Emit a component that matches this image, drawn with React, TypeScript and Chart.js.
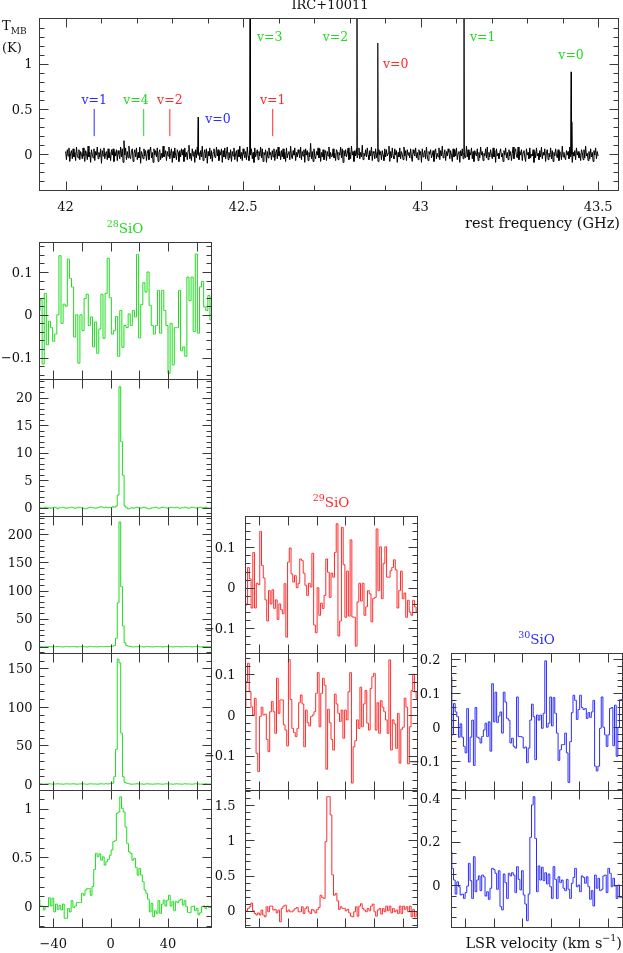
import React, { useEffect, useRef } from "react";
import { Chart, registerables } from "chart.js";
Chart.register(...registerables);

// ---------------- DATA ----------------
// Top spectrum (rest frequency, GHz)
const topFreqStart = 42.0;
const topFreqEnd = 43.5;
// baseline noise, in units of 0.01 K
const topNoiseCentiK = [
  3,-6,5,-2,7,-8,1,4,-5,6,-3,2,-7,8,-1,-4,5,-6,3,0,
  -5,7,-2,-8,4,1,-6,9,-3,2,-9,5,0,-4,6,-7,3,-1,8,-5,
  2,-3,6,-10,4,-2,7,-5,1,3,-6,6,-4,2,-7,5,-1,6,-8,3,
  -2,5,-7,4,0,-5,8,-3,6,-9,15,-1,7,-6,3,-4,9,-2,-5,4,
  6,-8,1,5,-3,7,-6,2,-4,8,-10,3,0,-5,6,-2,4,-7,1,5,
  -6,3,8,-4,2,-9,6,-1,4,-3,7,-8,2,5,-6,1,-4,9,-3,0,
  4,-7,3,-2,8,-5,1,6,-9,3,-4,7,-1,-6,5,2,-8,4,-3,6,
  -1,5,-8,7,-3,2,-6,4,10,-5,1,-7,6,-2,3,-9,5,-4,8,-1,
  2,-6,4,-3,9,-7,1,5,-4,6,-10,3,-2,7,-5,4,-8,2,6,-3,
  -4,8,-2,5,-7,3,-1,6,-9,4,-3,7,-5,1,8,-6,2,-4,5,-8,
  3,-2,7,-6,1,4,-8,5,-3,9,-5,2,-7,6,0,-4,3,-6,8,-2,
  -7,4,-1,6,-5,2,-9,7,-3,1,5,-6,3,-2,8,-4,6,-8,2,-1,
  5,-9,3,-4,7,-1,2,-6,4,-3,6,-7,1,5,-5,8,-2,3,-6,4,
  -3,6,-5,2,-8,7,-4,1,3,-6,9,-2,-5,4,-1,7,-7,2,-3,5,
  1,-4,8,-6,3,-2,5,-9,6,-1,4,-7,2,-3,12,-5,3,-8,6,-2,
  -5,3,-1,7,-4,6,-8,2,-3,5,-6,1,4,-7,3,-2,8,-5,2,-3,
  -2,6,-4,1,-7,5,3,-6,2,-1,8,-4,6,-9,4,-2,5,-3,1,7,
  -6,2,-5,9,-1,3,-8,4,-2,6,-4,0,7,-5,2,-3,10,-6,1,-2,
  5,-3,7,-1,-6,4,-2,8,-7,3,1,-5,6,-4,2,-8,5,-1,3,-6,
  4,-1,-7,6,-3,5,-2,1,9,-8,3,-4,7,-2,-5,6,-1,4,-9,2,
  -3,7,-5,3,0,-6,8,-2,4,-7,5,-1,2,-4,6,-3,-8,5,1,-2,
  7,-4,2,-6,5,-1,3,-9,6,-3,1,4,-5,8,-2,-7,3,0,5,-4,
  -1,4,-8,2,6,-5,1,-3,7,-6,4,-2,9,-4,-1,5,-7,3,-2,6,
  2,-5,4,-1,-8,6,-3,5,-2,7,-6,1,3,-9,4,-2,6,-5,1,-3,
  -4,9,-3,5,-6,2,-1,7,-5,3,-8,4,0,-2,6,-7,2,-4,8,-1,
  3,-7,1,-2,6,-4,8,-6,2,-3,5,-1,-5,7,-3,4,-9,6,-2,1,
  -5,2,6,-3,1,-8,4,-1,7,-4,2,-6,5,-2,3,-7,1,8,-5,3,
  6,-2,-4,8,-6,3,-1,5,-7,2,4,-3,-8,6,-1,2,-5,7,-4,0,
  -2,5,-9,3,-4,7,-2,1,-6,4,-3,8,-5,2,-1,6,-8,3,5,-6,
  1,-3,7,-5,4,-8,2,-2,6,-1,-4,5,-7,3,1,-6,9,-3,2,-4,
  -6,4,-1,3,-5,8,-3,6,-9,2,-2,4,-6,7,-1,3,-4,1,-7,5,
  2,-6,5,-4,9,-2,1,-7,3,-5,6,-3,2,-8,4,-1,7,-5,3,-2,
];
// emission lines in the top spectrum
const lineFreqsGHz = [42.3732, 42.5196, 42.8206, 42.8794, 43.1221, 43.4238, 43.4262];
const linePeaksK = [0.41, 3.0, 3.0, 1.23, 3.0, 0.91, 0.36];
// marker sticks for undetected transitions
const markerFreqsGHz = [42.0805, 42.2199, 42.2936, 42.5834];
const markerIsotope = ["30", "28", "29", "29"];
const markerFromK = 0.2;
const markerToK = 0.5;
// transition labels
const labelText = ["v=1", "v=4", "v=2", "v=1", "v=0", "v=3", "v=2", "v=0", "v=1", "v=0"];
const labelIsotope = ["30", "28", "29", "29", "30", "28", "28", "29", "28", "28"];
const labelFreqGHz = [42.0805, 42.198, 42.2936, 42.5834, 42.393, 42.539, 42.796, 42.894, 43.139, 43.4238];
const labelLevelK = [0.6, 0.6, 0.6, 0.6, 0.4, 1.3, 1.3, 1.0, 1.3, 1.1];

// Velocity panels (LSR velocity, km/s)
const velMin = -50;
const velMax = 70;
const si28v4 = [0.01,0.035,-0.115,0.05,-0.07,-0.015,-0.03,-0.062,-0.045,0,0.138,-0.02,0.025,0.02,0.13,0.085,0.065,-0.052,0.0,-0.113,0,-0.037,0.038,0.048,-0.025,-0.005,-0.075,-0.017,-0.09,-0.033,0.048,-0.055,0.05,0.132,0.04,-0.045,-0.037,-0.004,-0.097,0.01,-0.076,-0.025,-0.03,0.002,-0.025,0.01,-0.005,0.141,-0.054,0.024,0.075,0.053,0.1,0.022,-0.025,-0.045,-0.025,0.057,-0.043,0.057,0.01,-0.025,-0.137,-0.02,-0.117,-0.03,-0.03,0.057,-0.084,-0.075,-0.097,0.088,0.033,0.088,-0.039,0.142,-0.043,0.065,0.078,0.018,0.01,0.045,-0.012];
const si28v3 = [
  0.1,0,-0.1,0,0.1,0,0,-0.1,0,0.1,0,-0.2,0,0,0.1,0,-0.1,0,0,0.1,
  0,-0.1,0,0.1,0,0,-0.1,-0.2,-0.1,0,0.1,0,0,-0.1,0,0.1,0.2,0.1,0,0.1,
  0,0.1,0,0.2,0.1,0.3,2.3,22,12,5.9,0.3,0,-0.2,-0.1,0,-0.1,0,0.1,0,-0.1,
  0,0.1,0,-0.1,-0.2,-0.1,0,0,0.1,0,-0.1,0,0.1,0,0,-0.1,0,0.1,0,0,
  0.1,0,-0.1,0,0,0.1,0,-0.1,0,0.1,0,0,-0.1,0,0.1,0,0,0.1,0,-0.1,
  0,
];
const si28v2 = [
  0,0.5,0,-0.5,0,0,0.5,0,-0.5,0,0,0.5,0,0,-0.5,0,0.5,0,0,0,
  0.5,0,-0.5,0,0,0.5,0,0,-0.5,0,0.5,0,0,0,-0.5,0,0.5,0,0,0.5,
  0,0.5,1,1,2,15,78,222,107,37,7,2,1,0.5,0,-0.5,0,0,0.5,0,
  0,-0.5,0,0.5,0,0,-0.5,0,0,0.5,0,0,-0.5,0,0.5,0,0,0,-0.5,0,
  0.5,0,0,-0.5,0,0.5,0,0,0,-0.5,0,0.5,0,0,-0.5,0,0,0.5,0,0,
  0,
];
const si28v1 = [
  0,0.3,0,-0.3,0,0,0.3,0,-0.3,0,0,0.3,0,0,-0.3,0,0.3,0,0,0,
  0.3,0,-0.3,0,0,0.3,0,0,-0.3,0,0.3,0,0,0,-0.3,0,0.3,0,0,0.3,
  0,0.3,0.5,1,9.5,45,162,157,66,9.5,2,1,0.5,0,-0.3,0,0,0.3,0,0,
  0,-0.3,0,0.3,0,0,-0.3,0,0,0.3,0,0,-0.3,0,0.3,0,0,0,-0.3,0,
  0.3,0,0,-0.3,0,0.3,0,0,0,-0.3,0,0.3,0,0,-0.3,0,0,0.3,0,0,
  0,
];
const si28v0 = [
  0.07,0,0,-0.04,-0.007,-0.007,0.085,0,0.08,-0.06,
  0.02,-0.035,0.007,-0.04,0.02,-0.125,-0.125,-0.025,-0.06,0.055,
  -0.015,0,0.035,0.035,0.035,0.13,0.11,0.165,0.18,0.18,
  0.11,0.2,0.375,0.54,0.505,0.535,0.47,0.505,0.42,0.455,
  0.48,0.52,0.575,0.66,0.67,0.95,0.965,1.12,1.0,0.965,
  0.81,0.64,0.555,0.54,0.47,0.49,0.395,0.317,0.385,0.317,
  0.25,0.165,0.13,0.07,-0.06,0.027,-0.11,-0.048,-0.075,0.055,
  -0.075,0.02,0.06,0,0.06,0.11,0,0.045,-0.048,0.045,
  0.035,0.06,0.07,0.01,0.055,-0.007,-0.065,-0.068,-0.007,0,
  -0.048,-0.025,-0.09,-0.068,-0.007,0,-0.025,0,-0.015,-0.015,
];
const si29v2 = [
  -0.046,-0.04,0.05,0.022,-0.05,0.087,-0.05,0.011,0.008,0.139,
  0.055,0.024,-0.03,-0.082,-0.007,-0.04,-0.005,-0.051,-0.03,-0.078,
  -0.04,-0.054,-0.064,0.01,-0.122,0.063,0.098,0.034,0.014,0.03,
  0,0.011,0.071,0.067,0.036,0.006,-0.019,0.011,0.002,0.085,
  -0.092,-0.111,0,-0.068,-0.038,-0.051,-0.019,0.071,0.038,-0.024,
  0.036,0.026,0.087,0.158,-0.119,-0.082,0.149,0.057,-0.073,0.041,
  -0.07,0.118,-0.072,-0.073,-0.144,-0.035,0.011,-0.033,0.011,-0.068,
  -0.047,-0.007,-0.015,-0.084,-0.027,-0.024,0.145,-0.007,0.101,-0.027,
  0.06,0.101,0.026,0.026,0.042,0.05,0.069,0.044,-0.05,-0.007,
  0.041,-0.027,-0.013,-0.073,-0.031,-0.06,-0.068,-0.031,-0.047,-0.06,
];
const si29v1 = [
  0.02,0.082,0.127,0.057,0.02,0,0.041,-0.094,-0.139,-0.004,
  0.019,0,0.002,-0.06,-0.09,0.008,0.033,0.008,-0.045,0.09,
  0.004,0.037,0.037,-0.024,-0.037,-0.076,0.136,0.038,-0.033,-0.043,
  -0.053,-0.033,0.03,0.049,0.027,-0.078,0.012,-0.019,-0.027,-0.004,
  0,0.008,0.053,0.104,-0.029,0.053,0.09,0.073,-0.133,0.014,
  -0.019,-0.06,-0.086,0.051,0.027,0.004,-0.016,0.012,-0.057,0.012,
  -0.012,0.057,0.104,-0.167,-0.078,-0.063,-0.012,-0.033,0.068,-0.029,
  0.027,0.06,-0.02,-0.037,0.065,0.094,0.102,-0.037,0.03,-0.045,
  0.035,0.019,0.008,-0.012,-0.045,0.135,-0.086,-0.012,-0.022,-0.082,
  0.004,-0.118,-0.035,-0.03,0.041,0.019,-0.12,-0.029,0.06,0.1,
  0.057,0.041,
];
const si29v0 = [
  0,0,0.033,0.057,0.11,0,-0.038,-0.06,-0.03,-0.06,0.01,
  -0.06,-0.085,0.057,-0.014,0.066,0.066,0.01,0.02,-0.03,0.01,
  -0.156,0.033,0.066,0.08,-0.014,0.01,-0.014,-0.014,0.01,0.033,
  0.047,-0.014,-0.014,0.057,-0.038,0.033,0.057,-0.014,-0.038,0.02,
  0,-0.03,0.02,0.047,0.22,0.19,0.175,0.98,1.62,1.62,
  1.36,0.51,0.22,0.245,0.14,0.02,0.057,0.033,0.033,0,
  0.02,-0.03,-0.076,-0.085,-0.014,0.057,-0.076,0.066,0.1,0.033,
  0.01,-0.014,0.033,0,0.066,0.095,-0.014,-0.076,0.01,0.033,
  -0.047,0.033,-0.014,0.066,0,0.066,-0.03,0.033,-0.014,0.01,
  -0.038,0.066,-0.038,0.066,0.02,0.057,-0.014,0.066,-0.085,0.02,
  -0.085,-0.014,
];
const si30v1 = [
  0.148,-0.022,0.07,0.045,0.031,-0.029,0.01,-0.029,-0.056,-0.075,
  0.055,-0.102,-0.029,0.021,-0.112,0.058,-0.029,-0.032,-0.046,-0.027,
  -0.008,0.012,-0.027,0.016,-0.07,0.128,0.016,0.103,0.014,0.033,
  0.045,-0.017,0.103,0.074,0.026,0.021,-0.046,-0.032,-0.056,-0.061,
  0.089,-0.027,-0.027,-0.029,-0.061,-0.058,-0.104,-0.061,0.021,0.068,
  0.031,-0.095,0.036,0.021,0.036,-0.003,0.041,0.195,0,0.012,
  0.089,0.004,0.087,0.041,-0.017,-0.097,-0.066,-0.051,-0.051,-0.017,
  -0.075,-0.162,-0.042,0.043,0.094,0.079,0.023,0.052,0.094,0.058,
  0.052,0.055,0.026,0.043,0.029,0.045,0.079,-0.114,-0.128,-0.114,
  -0.003,0.089,0,-0.022,-0.056,-0.022,0.055,0.058,-0.054,0.065,
  -0.085,0,0.081,0.081,
];
const si30v0 = [
  0.154,0.077,0.023,-0.042,0.015,-0.008,-0.046,-0.042,-0.062,-0.035,
  -0.005,0.1,0.02,-0.062,0.131,-0.031,0.023,0.042,-0.026,0.046,
  0.038,-0.051,-0.031,-0.066,-0.015,0.077,0.072,0.054,-0.02,0.066,
  -0.1,-0.115,0.051,0.011,-0.062,0.054,0.042,0.057,0.046,-0.035,
  0.085,0.026,-0.023,0.066,-0.046,-0.088,-0.165,-0.042,0.22,0.37,
  0.408,0.215,-0.031,0.088,0.023,0.082,0.02,0.057,0.005,0.051,
  -0.008,-0.062,0.085,0.026,-0.062,0.038,0.011,0.023,-0.015,-0.026,
  0.026,-0.02,-0.062,0.008,0.035,0.077,-0.008,0,-0.031,0.042,
  0.035,0.008,0.038,-0.008,-0.066,-0.026,-0.097,0.046,-0.015,0.031,
  -0.026,-0.02,0.042,0.046,-0.035,0.077,0.054,-0.008,0.031,-0.005,
  -0.062,0,-0.057,-0.057,
];

// ---------------- STYLE / LAYOUT ----------------
const W = 623;
const H = 953;
const FONT = '"DejaVu Serif", "Liberation Serif", serif';
const ISO_COLOR: Record<string, string> = { "28": "#1fdc1f", "29": "#ff2b2b", "30": "#2b2bff" };
const INK = "#111111";
const FRAME = "#3a3a3a";
const MAJ = 9;
const MIN = 5;
const TICK_FS = 13;

const labelLayout = ["center", "center", "center", "center", "left", "left", "right", "left", "left", "center"];

type Axis = { min: number; max: number; major: number; minor: number };
type Spec = {
  frame: { l: number; t: number; r: number; b: number };
  x: Axis & { labelStep?: number; labelY?: number };
  y: Axis & { labelGap: number; labelMax?: number };
  datasets: any[];
  extra?: (ctx: CanvasRenderingContext2D, chart: any) => void;
};

function tickValues(min: number, max: number, step: number) {
  const out: number[] = [];
  const k0 = Math.ceil(min / step - 1e-9);
  const k1 = Math.floor(max / step + 1e-9);
  for (let k = k0; k <= k1; k++) out.push(+(k * step).toFixed(6));
  return out;
}
const isMult = (v: number, s: number) => Math.abs(v / s - Math.round(v / s)) < 1e-6;
const fmt = (v: number) => String(+v.toFixed(6)).replace("-", "\u2212");

type Part = { t: string; size: number; dy: number };
function drawRich(ctx: CanvasRenderingContext2D, parts: Part[], x: number, baseline: number, align: string, color: string) {
  let total = 0;
  for (const p of parts) {
    ctx.font = `${p.size}px ${FONT}`;
    total += ctx.measureText(p.t).width;
  }
  let cx = align === "center" ? x - total / 2 : align === "right" ? x - total : x;
  ctx.fillStyle = color;
  ctx.textAlign = "left";
  ctx.textBaseline = "alphabetic";
  for (const p of parts) {
    ctx.font = `${p.size}px ${FONT}`;
    ctx.fillText(p.t, cx, baseline + p.dy);
    cx += ctx.measureText(p.t).width;
  }
}

function makeFramePlugin(spec: Spec) {
  return {
    id: "pgframe",
    afterDraw(chart: any) {
      const ctx: CanvasRenderingContext2D = chart.ctx;
      const ca = chart.chartArea;
      const xs = chart.scales.x;
      const ys = chart.scales.y;
      const L = Math.round(ca.left) + 0.5;
      const R = Math.round(ca.right) + 0.5;
      const T = Math.round(ca.top) + 0.5;
      const B = Math.round(ca.bottom) + 0.5;
      ctx.save();
      ctx.strokeStyle = FRAME;
      ctx.lineWidth = 1;
      ctx.strokeRect(L, T, R - L, B - T);
      ctx.beginPath();
      for (const v of tickValues(spec.x.min, spec.x.max, spec.x.minor)) {
        const px = Math.round(xs.getPixelForValue(v)) + 0.5;
        const len = isMult(v, spec.x.major) ? MAJ : MIN;
        ctx.moveTo(px, B);
        ctx.lineTo(px, B - len);
        ctx.moveTo(px, T);
        ctx.lineTo(px, T + len);
      }
      for (const v of tickValues(spec.y.min, spec.y.max, spec.y.minor)) {
        const py = Math.round(ys.getPixelForValue(v)) + 0.5;
        const len = isMult(v, spec.y.major) ? MAJ : MIN;
        ctx.moveTo(L, py);
        ctx.lineTo(L + len, py);
        ctx.moveTo(R, py);
        ctx.lineTo(R - len, py);
      }
      ctx.stroke();
      ctx.fillStyle = INK;
      ctx.font = `${TICK_FS}px ${FONT}`;
      ctx.textBaseline = "alphabetic";
      ctx.textAlign = "right";
      const yLabMax = spec.y.labelMax ?? spec.y.max;
      for (const v of tickValues(spec.y.min, yLabMax, spec.y.major)) {
        const py = ys.getPixelForValue(v);
        ctx.fillText(fmt(v), L - spec.y.labelGap, py + 0.36 * TICK_FS);
      }
      if (spec.x.labelStep) {
        ctx.textAlign = "center";
        for (const v of tickValues(spec.x.min, spec.x.max, spec.x.labelStep)) {
          const px = xs.getPixelForValue(v);
          ctx.fillText(fmt(v), px, (spec.x.labelY as number) + 0.36 * TICK_FS);
        }
      }
      if (spec.extra) spec.extra(ctx, chart);
      ctx.restore();
    },
  };
}

function ChartPanel({ spec }: { spec: Spec }) {
  const ref = useRef<HTMLCanvasElement>(null);
  useEffect(() => {
    const canvas = ref.current as HTMLCanvasElement;
    const chart = new Chart(canvas, {
      type: "line",
      data: { datasets: spec.datasets },
      options: {
        responsive: false,
        animation: false,
        devicePixelRatio: 1,
        events: [],
        layout: {
          padding: { left: spec.frame.l, top: spec.frame.t, right: W - spec.frame.r, bottom: H - spec.frame.b },
        },
        plugins: { legend: { display: false }, tooltip: { enabled: false }, title: { display: false } },
        scales: {
          x: { type: "linear", display: false, min: spec.x.min, max: spec.x.max },
          y: { type: "linear", display: false, min: spec.y.min, max: spec.y.max },
        },
        elements: { point: { radius: 0 }, line: { tension: 0 } },
      } as any,
      plugins: [makeFramePlugin(spec) as any],
    });
    return () => chart.destroy();
  }, [spec]);
  return <canvas ref={ref} width={W} height={H} style={{ position: "absolute", left: 0, top: 0 }} />;
}

// ---------------- BUILD PANELS ----------------
const topNoisePoints = topNoiseCentiK.map((v, i) => ({
  x: topFreqStart + (i * (topFreqEnd - topFreqStart)) / (topNoiseCentiK.length - 1),
  y: v / 100,
}));
const spikePoints: any[] = [];
lineFreqsGHz.forEach((f, i) => {
  spikePoints.push({ x: f - 0.0009, y: 0 }, { x: f, y: linePeaksK[i] }, { x: f + 0.0009, y: 0 }, { x: f + 0.001, y: null });
});

const topSpec: Spec = {
  frame: { l: 39, t: 18, r: 618, b: 190 },
  x: { min: 41.925, max: 43.556, major: 0.5, minor: 0.1, labelStep: 0.5, labelY: 206 },
  y: { min: -0.395, max: 1.505, major: 0.5, minor: 0.1, labelGap: 7, labelMax: 1.2 },
  datasets: [
    { data: topNoisePoints, borderColor: "#000", borderWidth: 1, pointRadius: 0, fill: false },
    { data: spikePoints, borderColor: "#000", borderWidth: 1.2, pointRadius: 0, fill: false, spanGaps: false },
    ...markerFreqsGHz.map((f, i) => ({
      data: [{ x: f, y: markerFromK }, { x: f, y: markerToK }],
      borderColor: ISO_COLOR[markerIsotope[i]],
      borderWidth: 1,
      pointRadius: 0,
      fill: false,
    })),
  ],
  extra: (ctx, chart) => {
    const xs = chart.scales.x;
    const ys = chart.scales.y;
    drawRich(ctx, [{ t: "IRC+10011", size: 13, dy: 0 }], 330, 9, "center", INK);
    drawRich(ctx, [{ t: "T", size: 13, dy: 0 }, { t: "MB", size: 9, dy: 4 }], 2, 30, "left", INK);
    drawRich(ctx, [{ t: "(K)", size: 13, dy: 0 }], 2, 52, "left", INK);
    drawRich(ctx, [{ t: "rest frequency (GHz)", size: 14.5, dy: 0 }], 620, 228, "right", INK);
    labelText.forEach((t, i) => {
      const px = xs.getPixelForValue(labelFreqGHz[i]);
      const py = ys.getPixelForValue(labelLevelK[i]);
      drawRich(ctx, [{ t, size: 12.5, dy: 0 }], px, py + 4.5, labelLayout[i], ISO_COLOR[labelIsotope[i]]);
    });
  },
};

const colX = [
  { l: 39, r: 211, gap: 7 },
  { l: 245, r: 417, gap: 10 },
  { l: 451, r: 622, gap: 11 },
];
const rowY = [242, 379, 516, 653, 790, 927];

function velPanel(
  col: number,
  row: number,
  values: number[],
  iso: string,
  yMin: number,
  yMax: number,
  yMajor: number,
  yMinor: number,
  extra?: Spec["extra"],
  xLabels?: boolean
): Spec {
  const n = values.length;
  const pts = values.map((v, i) => ({ x: velMin + (i * (velMax - velMin)) / (n - 1), y: v }));
  return {
    frame: { l: colX[col].l, t: rowY[row], r: colX[col].r, b: rowY[row + 1] },
    x: { min: velMin, max: velMax, major: 20, minor: 20, labelStep: xLabels ? 40 : undefined, labelY: 943.5 },
    y: { min: yMin, max: yMax, major: yMajor, minor: yMinor, labelGap: colX[col].gap },
    datasets: [{ data: pts, borderColor: ISO_COLOR[iso], borderWidth: 1, pointRadius: 0, fill: false, stepped: "middle" }],
    extra,
  };
}

const isoTitle = (iso: string, col: number, baseline: number) => (ctx: CanvasRenderingContext2D) => {
  const cx = (colX[col].l + colX[col].r) / 2;
  drawRich(ctx, [{ t: iso, size: 9.5, dy: -6 }, { t: "SiO", size: 13.5, dy: 0 }], cx, baseline, "center", ISO_COLOR[iso]);
};

const panels: Spec[] = [
  topSpec,
  velPanel(0, 0, si28v4, "28", -0.15, 0.17, 0.1, 0.02, isoTitle("28", 0, 233)),
  velPanel(0, 1, si28v3, "28", -1.5, 23.4, 5, 1),
  velPanel(0, 2, si28v2, "28", -11.2, 232.7, 50, 10),
  velPanel(0, 3, si28v1, "28", -7.8, 169.9, 50, 10),
  velPanel(0, 4, si28v0, "28", -0.215, 1.19, 0.5, 0.1, undefined, true),
  velPanel(1, 2, si29v2, "29", -0.161, 0.177, 0.1, 0.02, isoTitle("29", 1, 507)),
  velPanel(1, 3, si29v1, "29", -0.184, 0.152, 0.1, 0.02),
  velPanel(1, 4, si29v0, "29", -0.23, 1.714, 0.5, 0.1),
  velPanel(2, 3, si30v1, "30", -0.184, 0.218, 0.1, 0.02, isoTitle("30", 2, 644)),
  velPanel(2, 4, si30v0, "30", -0.194, 0.439, 0.2, 0.05, (ctx) => {
    drawRich(
      ctx,
      [
        { t: "LSR velocity (km s", size: 14.5, dy: 0 },
        { t: "\u22121", size: 9.5, dy: -7 },
        { t: ")", size: 14.5, dy: 0 },
      ],
      622,
      948,
      "right",
      INK
    );
  }),
];

export default function App() {
  return (
    <div style={{ position: "absolute", left: 0, top: 0, width: W, height: H, background: "#fff", overflow: "hidden" }}>
      {panels.map((p, i) => (
        <ChartPanel key={i} spec={p} />
      ))}
    </div>
  );
}
